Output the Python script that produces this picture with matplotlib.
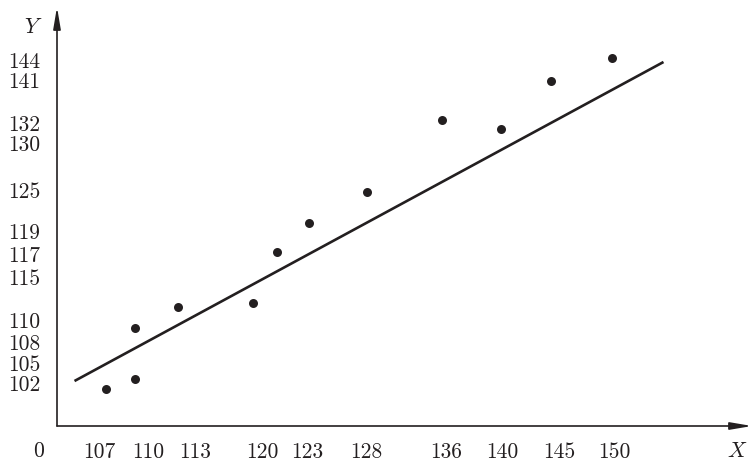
import numpy as np
import matplotlib
matplotlib.use("Agg")
import matplotlib.pyplot as plt
from matplotlib.ticker import FixedLocator, FixedFormatter

# ---------------- data ----------------
x_values = [107.4, 109.2, 109.2, 111.9, 119.1, 121.0, 123.2, 128.1, 135.6, 139.9, 144.3, 149.8]
y_values = [101.1, 102.6, 109.3, 111.5, 112.0, 117.2, 120.2, 124.7, 132.6, 131.4, 140.8, 144.3]

# fitted (regression) line end points
line_x = [105.5, 154.5]
line_y = [102.3, 143.7]

x_tick_labels = [107, 110, 113, 120, 123, 128, 136, 140, 145, 150]
y_tick_labels = [102, 105, 108, 110, 115, 117, 119, 125, 130, 132, 141, 144]

# ---------------- layout (the drawing's axes are not to scale) ----------------
W, H = 755, 463
x_tick_at = [99, 148, 195, 262, 307, 366, 446, 502, 559, 614]          # px from left
y_tick_at = [80, 100, 121, 143, 186, 209, 232, 273, 320, 340, 383, 403]  # px from bottom
origin_px = (57, 37)
x_end_px, y_end_px = 752, 456

INK = "#231f20"


def piecewise(vals, pos):
    v = np.asarray(vals, float)
    p = np.asarray(pos, float)

    def _map(x, a, b):
        x = np.asarray(x, float)
        out = np.interp(x, a, b)
        s0 = (b[1] - b[0]) / (a[1] - a[0])
        s1 = (b[-1] - b[-2]) / (a[-1] - a[-2])
        out = np.where(x < a[0], b[0] + (x - a[0]) * s0, out)
        out = np.where(x > a[-1], b[-1] + (x - a[-1]) * s1, out)
        return out

    return (lambda x: _map(x, v, p)), (lambda y: _map(y, p, v))


fx, ix = piecewise(x_tick_labels, x_tick_at)
fy, iy = piecewise(y_tick_labels, y_tick_at)

plt.rcParams["mathtext.fontset"] = "cm"
plt.rcParams["axes.unicode_minus"] = False

fig = plt.figure(figsize=(W / 100, H / 100), dpi=100)
ax = fig.add_axes([origin_px[0] / W, origin_px[1] / H,
                   (x_end_px - origin_px[0]) / W, (y_end_px - origin_px[1]) / H])
ax.set_xscale("function", functions=(fx, ix))
ax.set_yscale("function", functions=(fy, iy))
ax.set_xlim(float(ix(origin_px[0])), float(ix(x_end_px)))
ax.set_ylim(float(iy(origin_px[1])), float(iy(y_end_px)))
ax.patch.set_alpha(0)

for s in ax.spines.values():
    s.set_visible(False)

# axes with arrows
arrow = dict(arrowstyle="-|>,head_length=1.3,head_width=0.22", lw=1.2,
             color=INK, shrinkA=0, shrinkB=0)
ax.annotate("", xy=(1, 0), xytext=(0, 0), xycoords="axes fraction", arrowprops=arrow)
ax.annotate("", xy=(0, 1), xytext=(0, 0), xycoords="axes fraction", arrowprops=arrow)

# regression line and points
ax.plot(line_x, line_y, color=INK, lw=1.9, solid_capstyle="butt", clip_on=False)
ax.scatter(x_values, y_values, s=42, color=INK, zorder=3, clip_on=False, linewidths=0)

# ticks
fs = 15.5
ax.xaxis.set_major_locator(FixedLocator(x_tick_labels))
ax.xaxis.set_major_formatter(FixedFormatter([str(v) for v in x_tick_labels]))
ax.yaxis.set_major_locator(FixedLocator(y_tick_labels))
ax.yaxis.set_major_formatter(FixedFormatter([str(v) for v in y_tick_labels]))
ax.xaxis.set_minor_locator(FixedLocator([]))
ax.yaxis.set_minor_locator(FixedLocator([]))
ax.tick_params(axis="x", length=0, pad=12, labelsize=fs, labelcolor=INK)
ax.tick_params(axis="y", length=0, pad=12, labelsize=fs, labelcolor=INK)
for lab in ax.get_xticklabels() + ax.get_yticklabels():
    lab.set_family("cmr10")

fig.text(39 / W, 1 - 451 / H, "0", family="cmr10", fontsize=fs, color=INK,
         ha="center", va="center")
fig.text(737 / W, 1 - 451 / H, "$X$", fontsize=fs, color=INK, ha="center", va="center")
fig.text(33 / W, 1 - 27 / H, "$Y$", fontsize=fs, color=INK, ha="center", va="center")

fig.savefig("out.png", dpi=100)
